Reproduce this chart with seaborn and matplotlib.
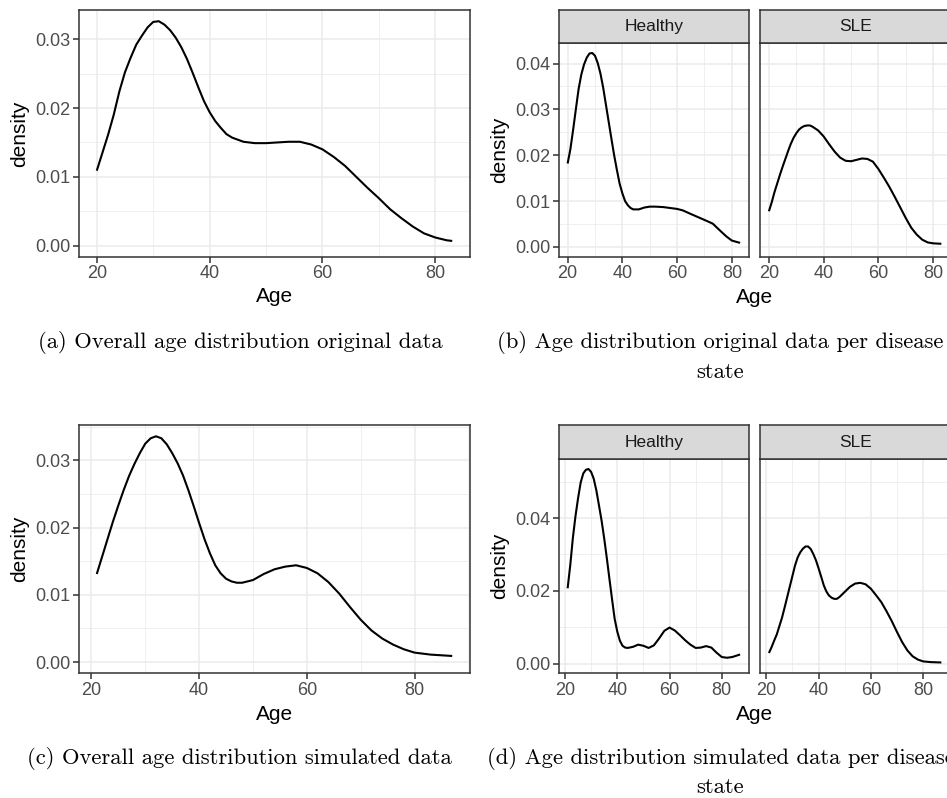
import matplotlib
matplotlib.use("Agg")
import matplotlib.pyplot as plt
import pandas as pd
import seaborn as sns
from matplotlib.ticker import MultipleLocator, FormatStrFormatter

# ---------------------------------------------------------------------------
# Kernel density estimates of Age
# ---------------------------------------------------------------------------
# (a) overall, original data
orig_age = [20, 21, 22, 23, 24, 25, 26, 27, 28, 29, 30, 31, 32, 33, 34, 35, 36,
            37, 38, 39, 40, 41, 42, 43, 44, 46, 48, 50, 52, 54, 56, 58, 60, 62,
            64, 66, 68, 70, 72, 74, 76, 78, 80, 82, 83]
orig_density = [0.0109, 0.0135, 0.0161, 0.0190, 0.0224, 0.0252, 0.0273, 0.0292,
                0.0305, 0.0317, 0.0325, 0.0326, 0.0321, 0.0313, 0.0302, 0.0288,
                0.0271, 0.0251, 0.0230, 0.0210, 0.0194, 0.0181, 0.0171, 0.0162,
                0.0157, 0.0151, 0.0149, 0.0149, 0.0150, 0.0151, 0.0151, 0.0147,
                0.0140, 0.0129, 0.0116, 0.0100, 0.0084, 0.0069, 0.0053, 0.0040,
                0.0028, 0.0018, 0.0012, 0.0008, 0.0007]

# (b) original data per disease state
orig_healthy_age = [20, 21, 22, 23, 24, 25, 26, 27, 28, 29, 30, 31, 32, 33, 34,
                    35, 36, 37, 38, 39, 40, 41, 42, 43, 44, 46, 48, 50, 52, 55,
                    60, 62, 65, 70, 73, 76, 78, 80, 83]
orig_healthy_density = [0.0182, 0.0213, 0.0255, 0.0300, 0.0344, 0.0376, 0.0398,
                        0.0413, 0.0422, 0.0423, 0.0417, 0.0401, 0.0378, 0.0347,
                        0.0310, 0.0273, 0.0236, 0.0200, 0.0168, 0.0138, 0.0117,
                        0.0100, 0.0091, 0.0085, 0.0082, 0.0082, 0.0086, 0.0088,
                        0.0088, 0.0087, 0.0083, 0.0080, 0.0072, 0.0059, 0.0051,
                        0.0034, 0.0023, 0.0014, 0.0009]
orig_sle_age = [20, 21, 22, 23, 24, 25, 26, 27, 28, 29, 30, 31, 32, 33, 34, 35,
                36, 38, 40, 42, 44, 46, 48, 50, 52, 54, 56, 58, 60, 62, 64, 66,
                68, 70, 72, 74, 76, 78, 80, 83]
orig_sle_density = [0.0078, 0.0097, 0.0119, 0.0138, 0.0157, 0.0175, 0.0192,
                    0.0209, 0.0225, 0.0238, 0.0248, 0.0256, 0.0261, 0.0264,
                    0.0265, 0.0265, 0.0262, 0.0254, 0.0241, 0.0224, 0.0208,
                    0.0195, 0.0188, 0.0187, 0.0190, 0.0193, 0.0192, 0.0186,
                    0.0170, 0.0151, 0.0131, 0.0109, 0.0086, 0.0063, 0.0042,
                    0.0027, 0.0016, 0.0010, 0.0008, 0.0007]

# (c) overall, simulated data
sim_age = [21, 22, 23, 24, 25, 26, 27, 28, 29, 30, 31, 32, 33, 34, 35, 36, 37,
           38, 39, 40, 41, 42, 43, 44, 45, 46, 47, 48, 50, 52, 54, 56, 58, 60,
           62, 64, 66, 68, 70, 72, 74, 76, 78, 80, 83, 87]
sim_density = [0.0131, 0.0157, 0.0183, 0.0209, 0.0233, 0.0256, 0.0277, 0.0295,
               0.0311, 0.0325, 0.0333, 0.0336, 0.0333, 0.0324, 0.0311, 0.0296,
               0.0278, 0.0256, 0.0232, 0.0207, 0.0183, 0.0162, 0.0144, 0.0132,
               0.0124, 0.0120, 0.0118, 0.0118, 0.0122, 0.0131, 0.0138, 0.0142,
               0.0144, 0.0140, 0.0132, 0.0119, 0.0102, 0.0082, 0.0063, 0.0047,
               0.0035, 0.0026, 0.0019, 0.0014, 0.0011, 0.0009]

# (d) simulated data per disease state
sim_healthy_age = [21, 22, 23, 24, 25, 26, 27, 28, 29, 30, 31, 32, 33, 34, 35,
                   36, 37, 38, 39, 40, 41, 42, 43, 44, 46, 48, 50, 52, 54, 56,
                   58, 60, 62, 64, 66, 68, 70, 72, 74, 76, 78, 80, 82, 84, 87]
sim_healthy_density = [0.0207, 0.0270, 0.0345, 0.0405, 0.0455, 0.0498, 0.0523,
                       0.0533, 0.0535, 0.0527, 0.0508, 0.0476, 0.0435, 0.0393,
                       0.0344, 0.0290, 0.0233, 0.0177, 0.0123, 0.0088, 0.0063,
                       0.0049, 0.0044, 0.0043, 0.0046, 0.0052, 0.0049, 0.0043,
                       0.0050, 0.0069, 0.0090, 0.0099, 0.0091, 0.0078, 0.0064,
                       0.0052, 0.0043, 0.0044, 0.0048, 0.0044, 0.0030, 0.0018,
                       0.0016, 0.0018, 0.0025]
sim_sle_age = [21, 22, 23, 24, 25, 26, 27, 28, 29, 30, 31, 32, 33, 34, 35, 36,
               37, 38, 39, 40, 41, 42, 43, 44, 45, 46, 47, 48, 50, 52, 54, 56,
               58, 60, 62, 64, 66, 68, 70, 72, 74, 76, 78, 80, 83, 87]
sim_sle_density = [0.0029, 0.0045, 0.0063, 0.0080, 0.0103, 0.0126, 0.0154,
                   0.0183, 0.0212, 0.0241, 0.0270, 0.0292, 0.0306, 0.0316,
                   0.0322, 0.0322, 0.0315, 0.0301, 0.0284, 0.0262, 0.0239,
                   0.0215, 0.0198, 0.0187, 0.0181, 0.0178, 0.0178, 0.0183,
                   0.0197, 0.0211, 0.0220, 0.0222, 0.0218, 0.0206, 0.0188,
                   0.0169, 0.0144, 0.0117, 0.0087, 0.0059, 0.0036, 0.0020,
                   0.0011, 0.0006, 0.0004, 0.0003]

states = ["Healthy", "SLE"]


def state_frame(pairs):
    frames = []
    for state, (ages, dens) in zip(states, pairs):
        frames.append(pd.DataFrame({"Age": ages, "density": dens, "state": state}))
    return pd.concat(frames, ignore_index=True)


orig_df = pd.DataFrame({"Age": orig_age, "density": orig_density})
sim_df = pd.DataFrame({"Age": sim_age, "density": sim_density})
orig_state_df = state_frame([(orig_healthy_age, orig_healthy_density),
                             (orig_sle_age, orig_sle_density)])
sim_state_df = state_frame([(sim_healthy_age, sim_healthy_density),
                            (sim_sle_age, sim_sle_density)])

# ---------------------------------------------------------------------------
# Styling (ggplot2 theme_bw look)
# ---------------------------------------------------------------------------
sns.set_theme(style="white")
plt.rcParams["font.family"] = ["Liberation Sans", "DejaVu Sans"]

W, H = 947, 798
BORDER = "#333333"
GRID = "#EBEBEB"
TICKTXT = "#4D4D4D"
TICK_FS = 13
TITLE_FS = 15
STRIP_FS = 12.5
CAP_FS = 16.3

fig = plt.figure(figsize=(W / 100, H / 100), dpi=100)
fig.patch.set_facecolor("white")


def box(x0, y0, x1, y1):
    return [x0 / W, 1 - y1 / H, (x1 - x0) / W, (y1 - y0) / H]


def limits(values):
    lo, hi = min(values), max(values)
    pad = 0.05 * (hi - lo)
    return lo - pad, hi + pad


def style_axes(ax, xlim, ylim, ystep, show_y=True):
    ax.set_xlim(*xlim)
    ax.set_ylim(*ylim)
    ax.xaxis.set_major_locator(MultipleLocator(20))
    ax.xaxis.set_minor_locator(MultipleLocator(10))
    ax.yaxis.set_major_locator(MultipleLocator(ystep))
    ax.yaxis.set_minor_locator(MultipleLocator(ystep / 2))
    ax.yaxis.set_major_formatter(FormatStrFormatter("%.2f"))
    ax.set_facecolor("white")
    ax.grid(which="major", color=GRID, linewidth=1.1)
    ax.grid(which="minor", color=GRID, linewidth=0.55)
    ax.set_axisbelow(True)
    for sp in ax.spines.values():
        sp.set_color(BORDER)
        sp.set_linewidth(1.1)
        sp.set_visible(True)
    ax.tick_params(which="major", length=4, width=1.1, color=BORDER,
                   labelcolor=TICKTXT, labelsize=TICK_FS, pad=2,
                   bottom=True, left=show_y, labelleft=show_y)
    ax.tick_params(which="minor", length=0)
    ax.set_xlabel("")
    ax.set_ylabel("")


def strip(x0, y0, x1, y1, label):
    s = fig.add_axes(box(x0, y0, x1, y1))
    s.set_facecolor("#D9D9D9")
    s.set_xticks([])
    s.set_yticks([])
    for sp in s.spines.values():
        sp.set_color(BORDER)
        sp.set_linewidth(1.1)
    s.text(0.5, 0.5, label, ha="center", va="center", fontsize=STRIP_FS,
           color="#1A1A1A", transform=s.transAxes)


LINE = dict(color="black", linewidth=1.5, estimator=None,
            solid_joinstyle="round", solid_capstyle="butt")


def single_panel(df, top, bottom, xlab_y):
    ax = fig.add_axes(box(79, top, 470, bottom))
    sns.lineplot(data=df, x="Age", y="density", ax=ax, **LINE)
    ymax = df["density"].max()
    style_axes(ax, limits(df["Age"]), (-0.05 * ymax, 1.05 * ymax), 0.01)
    fig.text(274.5 / W, 1 - xlab_y / H, "Age", ha="center", va="center",
             fontsize=TITLE_FS, color="black")
    fig.text(20 / W, 1 - (top + bottom) / 2 / H, "density", rotation=90,
             ha="center", va="center", fontsize=TITLE_FS, color="black")


def facet_panel(df, strip_top, top, bottom, ystep, xlab_y):
    ymax = df["density"].max()
    xlim = limits(df["Age"])
    ylim = (-0.05 * ymax, 1.05 * ymax)
    lefts = [(559, 748.7), (760.3, 950)]
    for (x0, x1), state in zip(lefts, states):
        ax = fig.add_axes(box(x0, top, x1, bottom))
        sns.lineplot(data=df[df["state"] == state], x="Age", y="density",
                     ax=ax, **LINE)
        style_axes(ax, xlim, ylim, ystep, show_y=(state == "Healthy"))
        strip(x0, strip_top, x1, top, state)
    fig.text(754.5 / W, 1 - xlab_y / H, "Age", ha="center", va="center",
             fontsize=TITLE_FS, color="black")
    fig.text(500 / W, 1 - (top + bottom) / 2 / H, "density", rotation=90,
             ha="center", va="center", fontsize=TITLE_FS, color="black")


single_panel(orig_df, 10, 257, 297)
facet_panel(orig_state_df, 10, 43.3, 256.7, 0.01, 298)
single_panel(sim_df, 425, 673.3, 714)
facet_panel(sim_state_df, 425.3, 459.3, 673.3, 0.02, 714)

# Sub-figure captions
cap = dict(family="cmr10", fontsize=CAP_FS, color="black", va="center")
fig.text(240 / W, 1 - 343 / H, "(a) Overall age distribution original data",
         ha="center", **cap)
fig.text(497 / W, 1 - 343 / H,
         "(b) Age distribution original data per disease", ha="left", **cap)
fig.text(720 / W, 1 - 372 / H, "state", ha="center", **cap)
fig.text(239 / W, 1 - 759 / H, "(c) Overall age distribution simulated data",
         ha="center", **cap)
fig.text(487 / W, 1 - 759 / H,
         "(d) Age distribution simulated data per disease", ha="left", **cap)
fig.text(720 / W, 1 - 787 / H, "state", ha="center", **cap)

fig.savefig("out.png", dpi=100, facecolor="white")
